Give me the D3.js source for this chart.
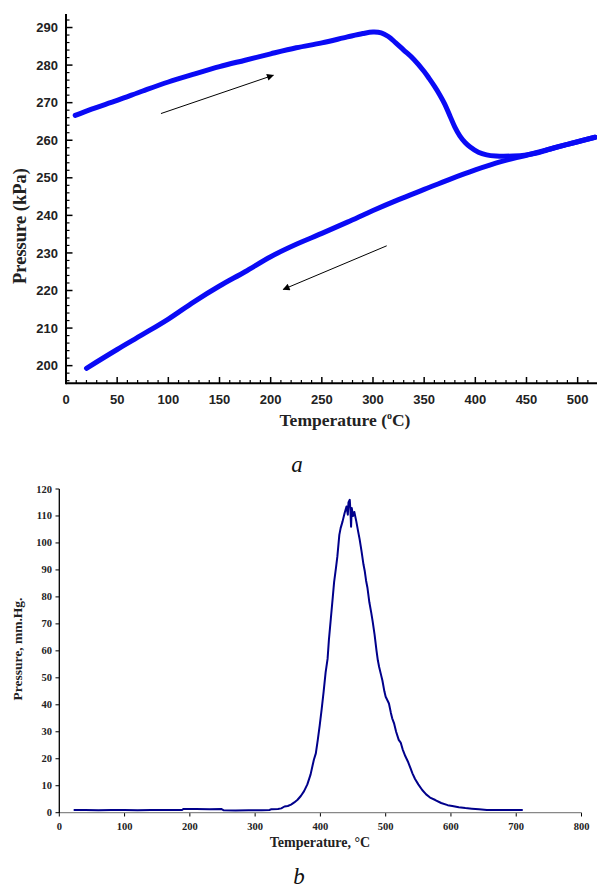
<!DOCTYPE html>
<html><head><meta charset="utf-8">
<script src="https://cdn.jsdelivr.net/npm/d3@7"></script>
<style>body{margin:0;background:#fff}svg{display:block}</style>
</head><body>
<svg id="c" width="597" height="890"></svg>
<script>
// ---- Chart a data ----
const heatT = [9,25,50,75,100,125,150,175,200,225,250,275,290,300,308,315,322,330,340,350,355,360,365,370,375,380,385,390,395,403,411,420,437,450,460,470,480,490,500,517];
const heatP = [266.6,268.3,270.6,273.1,275.5,277.6,279.6,281.3,283.0,284.6,285.9,287.5,288.4,288.8,288.6,287.6,286.0,284.0,281.5,278.3,276.4,274.4,272.2,269.7,266.6,263.5,261.1,259.4,258.2,256.8,256.1,255.8,255.8,256.1,256.6,257.4,258.2,258.9,259.6,260.8];
const coolT = [517,500,475,450,425,400,375,350,325,300,275,250,225,200,175,150,125,100,75,50,20];
const coolP = [260.8,259.6,257.8,256.0,254.3,252.1,249.6,246.9,244.2,241.3,238.2,235.2,232.3,229.0,225.0,221.2,217.0,212.4,208.3,204.3,199.3];
const aXTicks = [0,50,100,150,200,250,300,350,400,450,500];
const aYTicks = [200,210,220,230,240,250,260,270,280,290];
const arrowUp = [[92.8,267.1],[202.6,277.3]];
const arrowDown = [[313.4,231.9],[212.3,220.3]];

// ---- Chart b data ----
const bT = [22,40,60,80,100,120,140,160,180,188,190,210,230,248,252,270,290,310,322,325,335,340,345,350,355,360,365,370,375,380,385,388,390,393,396,399,402,405,408,411,413,416,419,421,424,426,429,431,434,437,440,442,443,445,446,447,448,450,452,455,458,460,463,466,468,470,472,475,478,480,483,486,488,490,493,495,498,500,503,505,508,510,513,516,520,523,526,530,534,538,541,545,550,556,562,568,576,585,595,602,612,622,632,643,655,670,690,710];
const bP = [1.0,1.0,0.9,1.0,1.0,0.9,1.0,1.0,1.0,1.0,1.4,1.4,1.3,1.4,0.9,0.8,0.9,0.9,1.0,1.3,1.4,1.6,2.3,2.5,3.0,3.8,4.8,6.2,8.0,10.5,14.2,17.5,19.6,22.0,27.0,32.5,38.5,45.0,52.0,57.0,64.0,72.0,80.0,85.5,91.0,95.0,103.0,105.5,108.0,111.0,113.5,110.5,115.0,116.0,112.0,106.0,113.0,110.0,111.5,108.0,104.0,101.5,97.0,92.0,89.5,86.0,83.5,78.0,74.0,71.0,66.0,60.0,56.5,54.0,51.0,49.0,45.0,43.0,41.5,40.5,37.0,35.0,33.0,30.0,27.0,26.0,23.5,21.0,19.0,16.5,14.6,12.5,10.5,8.4,6.8,5.6,4.7,3.6,2.8,2.5,2.0,1.7,1.5,1.3,1.0,1.0,1.0,1.0];
const bXTicks = [0,100,200,300,400,500,600,700,800];
const bYTicks = [0,10,20,30,40,50,60,70,80,90,100,110,120];

const svg = d3.select("#c");
const defs = svg.append("defs");
defs.append("marker").attr("id","ah").attr("viewBox","0 0 10 10").attr("refX",9).attr("refY",5)
  .attr("markerWidth",9).attr("markerHeight",7).attr("markerUnits","userSpaceOnUse").attr("orient","auto")
  .append("path").attr("d","M0,0L10,5L0,10Z").attr("fill","#000");

// ===== Chart a =====
const xa = d3.scaleLinear().domain([0,518.9]).range([66,597]);
const ya = d3.scaleLinear().domain([195.3,293.6]).range([383.3,14]);
const ga = svg.append("g");

const xMinor = d3.range(10,519,10).filter(v=>v%50!==0);
const yMinor = d3.range(196,294,2).filter(v=>v%10!==0);
const axA = ga.append("g").attr("stroke","#000");
axA.selectAll(".xm").data(xMinor).join("line").attr("x1",d=>xa(d)).attr("x2",d=>xa(d)).attr("y1",383.3).attr("y2",380).attr("stroke-width",1.2);
axA.selectAll(".xM").data(aXTicks).join("line").attr("x1",d=>xa(d)).attr("x2",d=>xa(d)).attr("y1",383.3).attr("y2",377).attr("stroke-width",1.5);
axA.selectAll(".ym").data(yMinor).join("line").attr("y1",d=>ya(d)).attr("y2",d=>ya(d)).attr("x1",66).attr("x2",69.5).attr("stroke-width",1.2);
axA.selectAll(".yM").data(aYTicks).join("line").attr("y1",d=>ya(d)).attr("y2",d=>ya(d)).attr("x1",65).attr("x2",72.5).attr("stroke-width",1.5);
axA.append("line").attr("x1",66).attr("x2",597).attr("y1",383.3).attr("y2",383.3).attr("stroke-width",2);
axA.append("line").attr("x1",66).attr("x2",66).attr("y1",14).attr("y2",384.3).attr("stroke-width",2);

ga.selectAll(".xl").data(aXTicks).join("text").attr("x",d=>xa(d)).attr("y",404)
  .attr("text-anchor","middle").attr("font-family","Liberation Sans, Arial, sans-serif").attr("font-weight","bold").attr("font-size",13).attr("fill","#222").text(d=>d);
ga.selectAll(".yl").data(aYTicks).join("text").attr("x",58).attr("y",d=>ya(d)+4.7)
  .attr("text-anchor","end").attr("font-family","Liberation Sans, Arial, sans-serif").attr("font-weight","bold").attr("font-size",13).attr("fill","#222").text(d=>d);

const tA = ga.append("text").attr("x",345).attr("y",426).attr("text-anchor","middle")
  .attr("font-family","Liberation Serif, Times New Roman, serif").attr("font-weight","bold").attr("font-size",17.5).attr("fill","#222");
tA.append("tspan").text("Temperature (");
tA.append("tspan").attr("font-size",10).attr("dy",-7).text("o");
tA.append("tspan").attr("dy",7).text("C)");
ga.append("text").attr("transform","translate(26,226) rotate(-90)").attr("text-anchor","middle")
  .attr("font-family","Liberation Serif, Times New Roman, serif").attr("font-weight","bold").attr("font-size",18.5).attr("fill","#222").text("Pressure (kPa)");

const lineC = d3.line().x(d=>xa(d[0])).y(d=>ya(d[1])).curve(d3.curveCatmullRom);
ga.append("path").attr("d",lineC(heatT.map((t,i)=>[t,heatP[i]]))).attr("fill","none").attr("stroke","#0a0af5").attr("stroke-width",5).attr("stroke-linecap","round").attr("stroke-linejoin","round");
ga.append("path").attr("d",lineC(coolT.map((t,i)=>[t,coolP[i]]))).attr("fill","none").attr("stroke","#0a0af5").attr("stroke-width",5).attr("stroke-linecap","round").attr("stroke-linejoin","round");

[arrowUp, arrowDown].forEach(a=>{
  ga.append("line").attr("x1",xa(a[0][0])).attr("y1",ya(a[0][1])).attr("x2",xa(a[1][0])).attr("y2",ya(a[1][1]))
    .attr("stroke","#000").attr("stroke-width",1).attr("marker-end","url(#ah)");
});

svg.append("text").attr("x",297).attr("y",472).attr("text-anchor","middle").attr("font-family","Liberation Serif, Times New Roman, serif")
  .attr("font-style","italic").attr("font-size",23).attr("fill","#111").text("a");

// ===== Chart b =====
const xb = d3.scaleLinear().domain([0,800]).range([59.3,581.5]);
const yb = d3.scaleLinear().domain([0,120]).range([812.7,489]);
const gb = svg.append("g");
gb.selectAll(".bxt").data(bXTicks).join("line").attr("x1",d=>xb(d)).attr("x2",d=>xb(d)).attr("y1",812.7).attr("y2",816.5).attr("stroke","#000").attr("stroke-width",1);
gb.selectAll(".byt").data(bYTicks).join("line").attr("y1",d=>yb(d)).attr("y2",d=>yb(d)).attr("x1",55.5).attr("x2",59.3).attr("stroke","#000").attr("stroke-width",1);
gb.append("line").attr("x1",59.3).attr("x2",581.5).attr("y1",812.7).attr("y2",812.7).attr("stroke","#888").attr("stroke-width",1.3);
gb.append("line").attr("x1",59.3).attr("x2",59.3).attr("y1",489).attr("y2",813).attr("stroke","#000").attr("stroke-width",1.3);

gb.selectAll(".bxl").data(bXTicks).join("text").attr("x",d=>xb(d)).attr("y",830)
  .attr("text-anchor","middle").attr("font-family","Liberation Serif, Times New Roman, serif").attr("font-weight","bold").attr("font-size",10.5).attr("fill","#222").text(d=>d);
gb.selectAll(".byl").data(bYTicks).join("text").attr("x",52).attr("y",d=>yb(d)+3.5)
  .attr("text-anchor","end").attr("font-family","Liberation Serif, Times New Roman, serif").attr("font-weight","bold").attr("font-size",10.5).attr("fill","#222").text(d=>d);
gb.append("text").attr("x",320).attr("y",847).attr("text-anchor","middle").attr("font-family","Liberation Serif, Times New Roman, serif")
  .attr("font-weight","bold").attr("font-size",14).attr("fill","#222").text("Temperature, °C");
gb.append("text").attr("transform","translate(22,649) rotate(-90)").attr("text-anchor","middle").attr("font-family","Liberation Serif, Times New Roman, serif")
  .attr("font-weight","bold").attr("font-size",13.5).attr("fill","#222").text("Pressure, mm.Hg.");

const lineB = d3.line().x(d=>xb(d[0])).y(d=>yb(d[1]));
gb.append("path").attr("d",lineB(bT.map((t,i)=>[t,bP[i]]))).attr("fill","none").attr("stroke","#00008b").attr("stroke-width",2).attr("stroke-linejoin","round");

svg.append("text").attr("x",299).attr("y",884).attr("text-anchor","middle").attr("font-family","Liberation Serif, Times New Roman, serif")
  .attr("font-style","italic").attr("font-size",23).attr("fill","#111").text("b");
</script>
</body></html>
